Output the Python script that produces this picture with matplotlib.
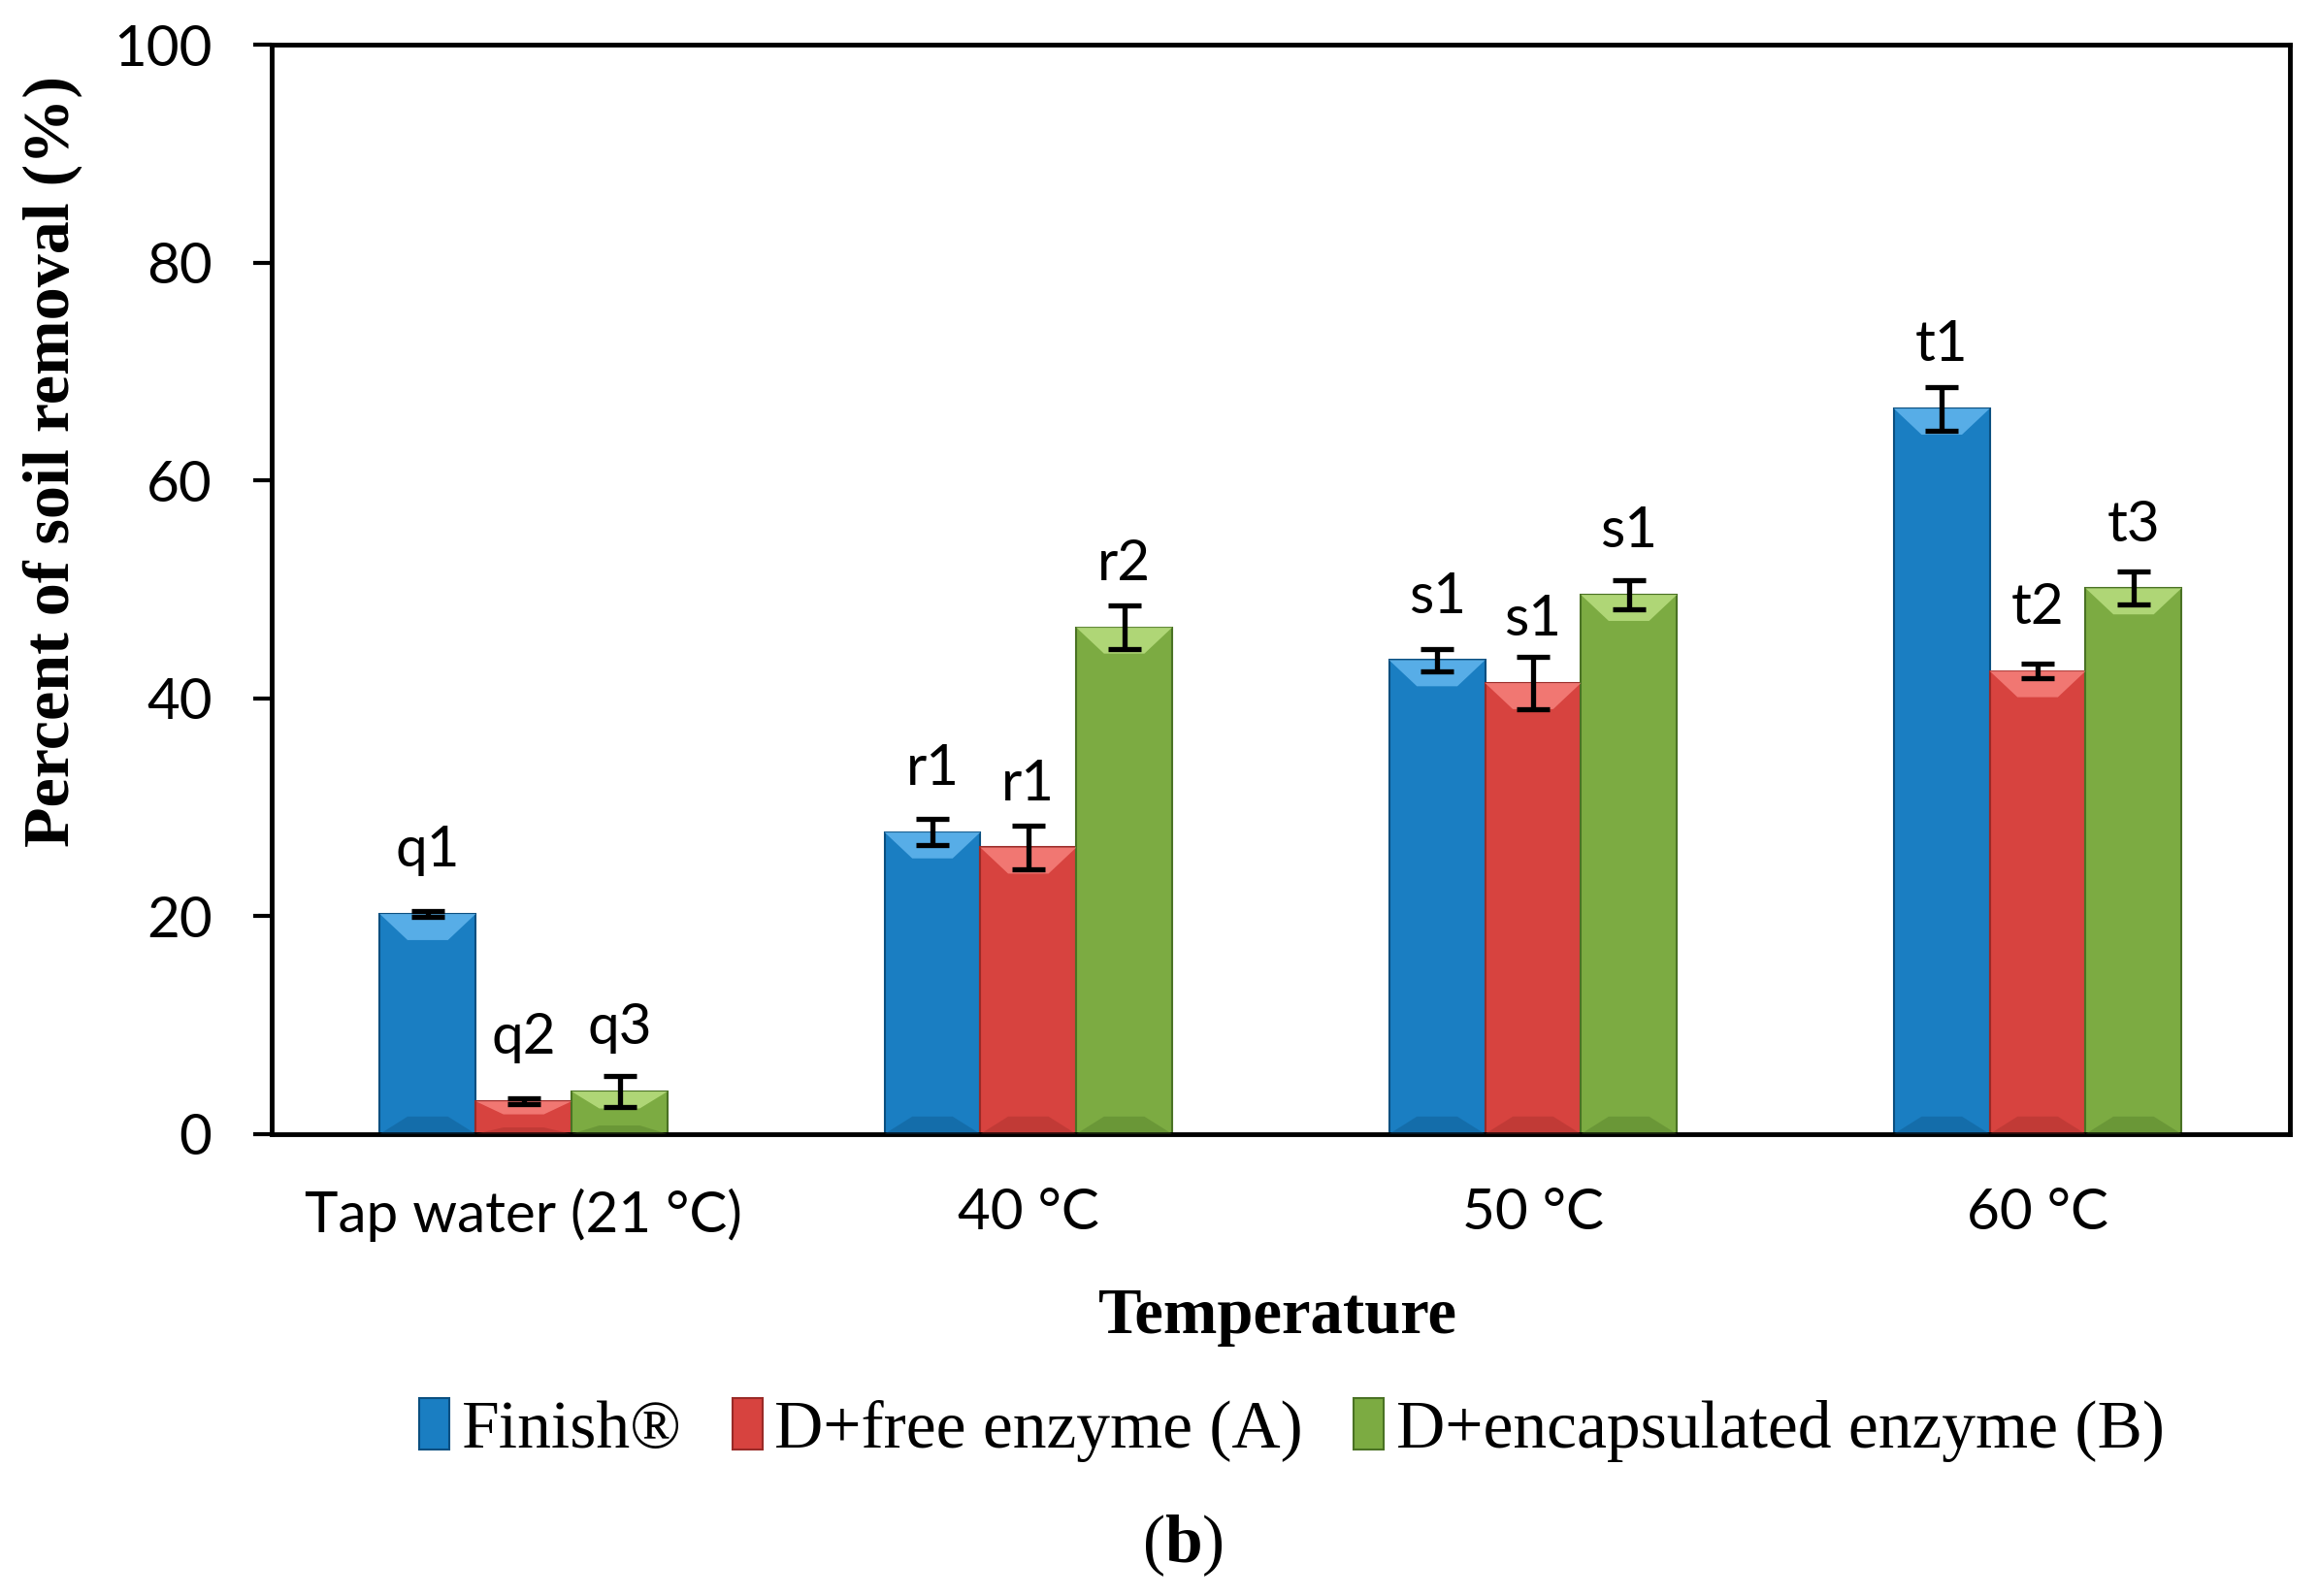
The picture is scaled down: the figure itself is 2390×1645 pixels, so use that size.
import matplotlib
matplotlib.use("Agg")
import matplotlib.pyplot as plt
from matplotlib.patches import Polygon
import numpy as np

categories = ["Tap water (21 \u00b0C)", "40 \u00b0C", "50 \u00b0C", "60 \u00b0C"]
series_names = ["Finish\u00ae", "D+free enzyme (A)", "D+encapsulated enzyme (B)"]
finish = [20.2, 27.7, 43.5, 66.6]
finish_err = [0.3, 1.2, 1.0, 2.0]
free_enz = [3.0, 26.3, 41.4, 42.5]
free_err = [0.3, 2.0, 2.4, 0.7]
encap_enz = [3.9, 46.5, 49.5, 50.1]
encap_err = [1.4, 2.0, 1.3, 1.5]
letters = [["q1", "r1", "s1", "t1"],
           ["q2", "r1", "s1", "t2"],
           ["q3", "r2", "s1", "t3"]]

face = ["#1a7ec2", "#d7433f", "#7cab42"]
light = ["#63b6ee", "#f6817c", "#b9de80"]
dark = ["#0a4f80", "#9a2a27", "#4a7224"]

sans = ["Lato", "DejaVu Sans"]
serif = ["Liberation Serif", "DejaVu Serif"]
plt.rcParams["mathtext.fontset"] = "custom"
plt.rcParams["mathtext.rm"] = "Liberation Serif"
plt.rcParams["mathtext.bf"] = "Liberation Serif:bold"

fig = plt.figure(figsize=(23.9, 16.45), dpi=100)
ax = fig.add_axes([0.117, 0.2895, 0.8705, 0.6825])

x = np.arange(len(categories))
w = 0.19
values = [finish, free_enz, encap_enz]
errors = [finish_err, free_err, encap_err]

bars = []
for i, (vals, errs) in enumerate(zip(values, errors)):
    pos = x + (i - 1) * w
    b = ax.bar(pos, vals, width=w, color=face[i], edgecolor=dark[i],
               linewidth=1.5, label=series_names[i], zorder=2)
    bars.append(b)
    # simple bevel: lighter top strip, darker bottom strip
    for p, v in zip(pos, vals):
        l, r = p - w / 2, p + w / 2
        bh = min(2.4, v * 0.4)
        ins = 0.055
        ax.add_patch(Polygon([(l, v), (r, v), (r - ins, v - bh), (l + ins, v - bh)],
                             closed=True, facecolor=light[i], edgecolor="none",
                             alpha=0.85, zorder=3))
        bb = min(1.6, v * 0.2)
        ax.add_patch(Polygon([(l, 0), (r, 0), (r - ins, bb), (l + ins, bb)],
                             closed=True, facecolor=dark[i], edgecolor="none",
                             alpha=0.35, zorder=3))
    ax.errorbar(pos, vals, yerr=errs, fmt="none", ecolor="black",
                elinewidth=3.8, capsize=12, capthick=3.8, zorder=5)
    for p, v, t in zip(pos, vals, letters[i]):
        ax.annotate(t, (p, v), xytext=(0, 35), textcoords="offset points",
                    ha="center", va="baseline", fontsize=42, family=sans)

ax.set_xlim(-0.5, 3.5)
ax.set_ylim(0, 100)
ax.set_yticks(np.arange(0, 101, 20))
ax.set_xticks(x)
ax.set_xticklabels(categories, family=sans, fontsize=42)
for lab in ax.get_yticklabels():
    lab.set_family(sans)
    lab.set_fontsize(42)
ax.tick_params(axis="y", direction="out", length=14, width=3, pad=30)
ax.tick_params(axis="x", length=0, pad=40)
for s in ax.spines.values():
    s.set_linewidth(3.5)

fig.text(0.551, 0.175, "Temperature", ha="center", va="center",
         family=serif, fontweight="bold", fontsize=48)
fig.text(0.0226, 0.711, "Percent of soil removal (%)", ha="center", va="center",
         rotation=90, family=serif, fontweight="bold", fontsize=49)

leg = fig.legend(handles=bars, labels=series_names, loc="center",
                 bbox_to_anchor=(0.557, 0.104), ncol=3, frameon=False,
                 prop={"family": serif, "size": 50}, handlelength=0.45,
                 handleheight=0.8, handletextpad=0.18, columnspacing=0.75)

fig.text(0.510, 0.0316, r"($\mathbf{b}$)", ha="center", va="center",
         family=serif, fontsize=50)

fig.savefig("out.png", dpi=100)
